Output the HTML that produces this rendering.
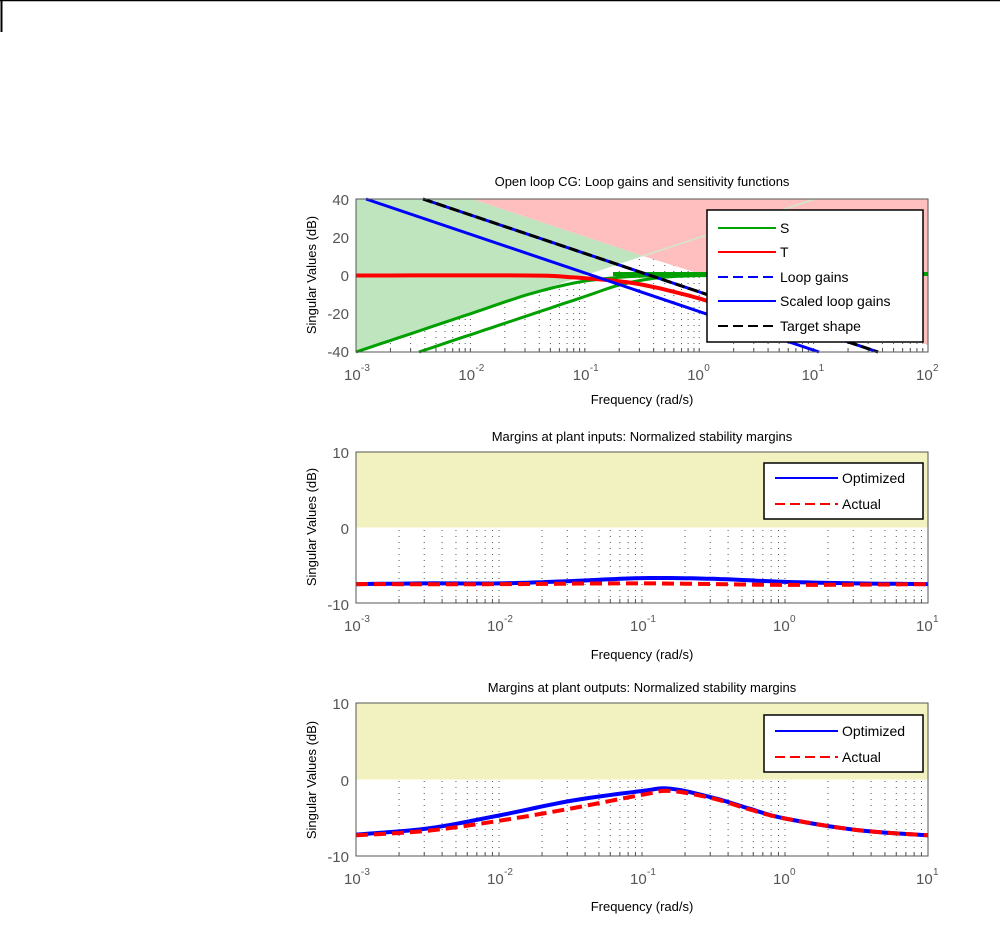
<!DOCTYPE html>
<html><head><meta charset="utf-8"><style>
html,body{margin:0;padding:0;background:#fff;}
svg{display:block;font-family:"Liberation Sans",sans-serif;}
.t{font-size:13px;fill:#000;}
.tk{font-size:15px;fill:#555;}
.sup{font-size:10px;fill:#555;}
.lg{font-size:14px;fill:#000;}
</style></head><body>
<svg id="s" width="1000" height="949" viewBox="0 0 1000 949" xmlns="http://www.w3.org/2000/svg">
<line x1="0" y1="0.5" x2="1000" y2="0.5" stroke="#000" stroke-width="1.5"/>
<line x1="1.5" y1="0" x2="1.5" y2="32" stroke="#000" stroke-width="2"/>
<g id="g1"></g><g id="g2"></g><g id="g3"></g>

<text class="t" x="642" y="186" text-anchor="middle">Open loop CG: Loop gains and sensitivity functions</text>
<text class="t" x="642" y="404" text-anchor="middle">Frequency (rad/s)</text>
<text class="t" transform="translate(316,275) rotate(-90)" text-anchor="middle">Singular Values (dB)</text>
<g class="tk" text-anchor="end">
<text x="349" y="205">40</text><text x="349" y="243">20</text><text x="349" y="281">0</text><text x="349" y="319">-20</text><text x="349" y="357">-40</text>
<text x="349" y="534">0</text><text x="349" y="458">10</text><text x="349" y="610">-10</text>
<text x="349" y="786">0</text><text x="349" y="709">10</text><text x="349" y="862">-10</text>
</g>
<g id="xt"></g>
<text class="t" x="642" y="659" text-anchor="middle">Frequency (rad/s)</text>
<text class="t" x="642" y="911" text-anchor="middle">Frequency (rad/s)</text>
<text class="t" x="642" y="441" text-anchor="middle">Margins at plant inputs: Normalized stability margins</text>
<text class="t" x="642" y="692" text-anchor="middle">Margins at plant outputs: Normalized stability margins</text>
<text class="t" transform="translate(316,527) rotate(-90)" text-anchor="middle">Singular Values (dB)</text>
<text class="t" transform="translate(316,780) rotate(-90)" text-anchor="middle">Singular Values (dB)</text>

<g id="lg1">
<rect x="707" y="210" width="216" height="132" fill="#fff" stroke="#000" stroke-width="1.5"/>
<line x1="718" y1="228" x2="776" y2="228" stroke="#00a000" stroke-width="2"/><text class="lg" x="780" y="233">S</text>
<line x1="718" y1="252" x2="776" y2="252" stroke="#f00" stroke-width="2"/><text class="lg" x="780" y="257">T</text>
<line x1="718" y1="277" x2="776" y2="277" stroke="#00f" stroke-width="2" stroke-dasharray="10,5"/><text class="lg" x="780" y="282">Loop gains</text>
<line x1="718" y1="301" x2="776" y2="301" stroke="#00f" stroke-width="2"/><text class="lg" x="780" y="306">Scaled loop gains</text>
<line x1="718" y1="326" x2="776" y2="326" stroke="#000" stroke-width="2" stroke-dasharray="10,5"/><text class="lg" x="780" y="331">Target shape</text>
</g>
</svg>
<script>
var NS="http://www.w3.org/2000/svg";
function el(p,n,a){var e=document.createElementNS(NS,n);for(var k in a)e.setAttribute(k,a[k]);p.appendChild(e);return e;}
var X0=356,X1=928;
function plot(y0,y1,lo,ndec,ymin,ymax){
  var dec=(X1-X0)/ndec;
  return {dec:dec,fx:function(f){return X0+(Math.log10(f)-lo)*dec;},fy:function(v){return y1-(v-ymin)/(ymax-ymin)*(y1-y0);}};
}
function grid(g,P,y0,y1,ndec){
  for(var d=0;d<ndec;d++){for(var m=1;m<=9;m++){var x=X0+(d+Math.log10(m))*P.dec;
    if(m>1||d>0) el(g,"line",{x1:x,y1:y0,x2:x,y2:y1,stroke:"#555","stroke-width":1,"stroke-dasharray":"1,5"});
    el(g,"line",{x1:x,y1:y1,x2:x,y2:y1-4,stroke:"#555","stroke-width":1});}}
}
function pl(g,pts,col,w,dash){var s=pts.map(function(p){return p[0].toFixed(1)+","+p[1].toFixed(1)}).join(" ");
 var a={points:s,fill:"none",stroke:col,"stroke-width":w,"stroke-linejoin":"round"};if(dash)a["stroke-dasharray"]=dash;el(g,"polyline",a);}
function cr(P,pts,n){var out=[];for(var i=0;i<pts.length-1;i++){var p0=pts[Math.max(i-1,0)],p1=pts[i],p2=pts[i+1],p3=pts[Math.min(i+2,pts.length-1)];
 for(var j=0;j<n;j++){var t=j/n,t2=t*t,t3=t2*t;var f=function(k){return 0.5*((2*p1[k])+(-p0[k]+p2[k])*t+(2*p0[k]-5*p1[k]+4*p2[k]-p3[k])*t2+(-p0[k]+3*p1[k]-3*p2[k]+p3[k])*t3);};
 out.push([P.fx(Math.pow(10,f(0))),P.fy(f(1))]);}}
 var l=pts[pts.length-1];out.push([P.fx(Math.pow(10,l[0])),P.fy(l[1])]);return out;}

var g1=document.getElementById("g1");
var P1=plot(199,352,-3,5,-40,40);
grid(g1,P1,199,352,5);
el(g1,"polygon",{points:"356,199 472,199 643,256 356,352",fill:"#bfe5bf"});
el(g1,"polygon",{points:"472,199 928,199 928,345 643,256",fill:"#ffbfbf"});
el(g1,"line",{x1:643,y1:256,x2:815,y2:199,stroke:"#cfe8cf","stroke-width":1.5});
pl(g1,cr(P1,[[-3,-40],[-2.5,-30],[-2,-20],[-1.5,-10],[-1.1,-4],[-0.8,-1.5],[-0.5,-0.3],[0,0]],8),"#00a000",3);
pl(g1,cr(P1,[[-2.45,-40],[-2,-31],[-1.5,-21],[-1,-11],[-0.7,-5],[-0.4,-1.5],[-0.1,-0.2],[0.3,0]],8),"#00a000",3);
pl(g1,[[613,274],[928,274]],"#00a000",4);
pl(g1,cr(P1,[[-3,0],[-1.5,0],[-1.1,-1],[-0.7,-3],[-0.4,-6],[0,-12],[0.3,-18]],8),"#f00",4);
pl(g1,[[423,199],[878,352]],"#00f",3);
pl(g1,[[423,199],[878,352]],"#000",3,"10,4");
pl(g1,[[366,199],[819,352]],"#00f",3);
el(g1,"rect",{x:356,y:199,width:572,height:153,fill:"none",stroke:"#555","stroke-width":1});

var g2=document.getElementById("g2");
var P2=plot(452,603,-3,4,-10,10);
grid(g2,P2,452,603,4);
el(g2,"rect",{x:356,y:452,width:572,height:75.5,fill:"#f2f2c0"});
pl(g2,cr(P2,[[-3,-7.5],[-2.5,-7.4],[-2,-7.4],[-1.5,-7.1],[-1,-6.7],[-0.5,-6.8],[0,-7.2],[0.5,-7.4],[1,-7.5]],10),"#00f",4);
pl(g2,cr(P2,[[-3,-7.5],[-2,-7.5],[-1,-7.4],[0,-7.6],[1,-7.5]],10),"#f00",4,"12,6");
el(g2,"rect",{x:356,y:452,width:572,height:151,fill:"none",stroke:"#555","stroke-width":1});
el(g2,"rect",{x:764,y:463,width:159,height:56,fill:"#fff",stroke:"#000","stroke-width":1.5});
el(g2,"line",{x1:775,y1:478,x2:838,y2:478,stroke:"#00f","stroke-width":2});
el(g2,"line",{x1:775,y1:504,x2:838,y2:504,stroke:"#f00","stroke-width":2,"stroke-dasharray":"10,5"});

var g3=document.getElementById("g3");
var P3=plot(703,856,-3,4,-10,10);
grid(g3,P3,703,856,4);
el(g3,"rect",{x:356,y:703,width:572,height:76.5,fill:"#f2f2c0"});
var blue=[[-3,-7.2],[-2.5,-6.4],[-2,-4.7],[-1.5,-2.8],[-1,-1.5],[-0.8,-1.2],[-0.5,-2.4],[-0.25,-3.8],[0,-5.1],[0.5,-6.6],[1,-7.3]];
var red=[[-3,-7.3],[-2.5,-6.7],[-2,-5.4],[-1.5,-3.8],[-1,-2.0],[-0.8,-1.5],[-0.5,-2.5],[-0.25,-3.9],[0,-5.1],[0.5,-6.6],[1,-7.3]];
pl(g3,cr(P3,blue,8),"#00f",4);
pl(g3,cr(P3,red,8),"#f00",4,"12,6");
el(g3,"rect",{x:356,y:703,width:572,height:153,fill:"none",stroke:"#555","stroke-width":1});
el(g3,"rect",{x:764,y:715,width:159,height:57,fill:"#fff",stroke:"#000","stroke-width":1.5});
el(g3,"line",{x1:775,y1:731,x2:838,y2:731,stroke:"#00f","stroke-width":2});
el(g3,"line",{x1:775,y1:757,x2:838,y2:757,stroke:"#f00","stroke-width":2,"stroke-dasharray":"10,5"});
var s=document.getElementById("s");
[["Optimized",842,483],["Actual",842,509],["Optimized",842,736],["Actual",842,762]].forEach(function(t){var e=el(s,"text",{x:t[1],y:t[2],"class":"lg"});e.textContent=t[0];});

var xt=document.getElementById("xt");
function xl(x,y,e){var t=el(xt,"text",{x:x-12,y:y,"class":"tk"});t.textContent="10";var u=el(xt,"text",{x:x+5,y:y-9,"class":"sup"});u.textContent=e;}
[-3,-2,-1,0,1,2].forEach(function(e,i){xl(X0+i*114.4,380,String(e));});
[-3,-2,-1,0,1].forEach(function(e,i){xl(X0+i*143,631,String(e));xl(X0+i*143,884,String(e));});
</script>
</body></html>
